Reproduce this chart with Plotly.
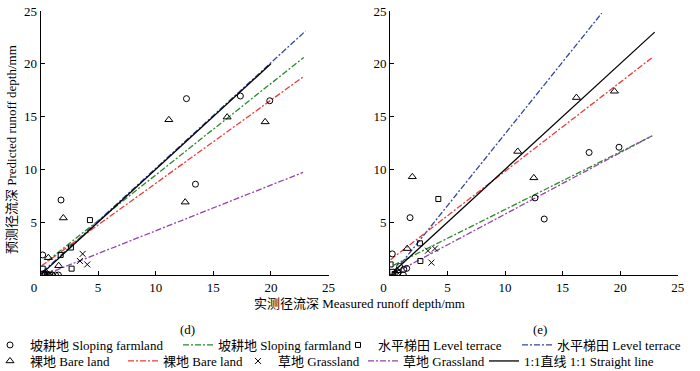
import plotly.graph_objects as go

# ---------------- data ----------------
tick_vals = [0, 5, 10, 15, 20, 25]
tick_text_x = ["0\u00a0\u00a0\u00a0\u00a0", "5", "10", "15", "20", "25"]
ytick_vals = [5, 10, 15, 20, 25]

# panel (d)
d_slope_x = [0.19, 1.78, 12.67, 17.35, 19.9, 13.45, 0.4, 0.6, 0.8, 1.0, 1.3, 1.55]
d_slope_y = [1.9, 7.1, 16.7, 16.95, 16.5, 8.6, 0.0, 0.05, 0.0, 0.0, 0.0, 0.0]
d_bare_x = [0.68, 1.98, 1.58, 11.14, 16.2, 12.56, 19.5, 0.3]
d_bare_y = [1.64, 5.4, 0.88, 14.7, 14.95, 6.9, 14.5, 0.1]
d_terr_x = [0.19, 2.7, 4.29, 2.64, 1.75, 0.1, 0.35]
d_terr_y = [0.6, 0.6, 5.2, 2.6, 1.9, 0.05, 0.1]
d_grass_x = [3.66, 3.42, 4.06, 0.5, 0.8]
d_grass_y = [2.0, 1.33, 1.0, 0.1, 0.2]

d_fit_slope_x = [0.6, 22.85]
d_fit_slope_y = [1.33, 20.6]
d_fit_terr_x = [0.2, 23.0]
d_fit_terr_y = [0.3, 23.1]
d_fit_bare_x = [0.1, 22.85]
d_fit_bare_y = [0.88, 18.8]
d_fit_grass_x = [0.3, 22.8]
d_fit_grass_y = [0.0, 9.72]
d_one_x = [0.2, 20.0]
d_one_y = [0.2, 20.0]

# panel (e)
e_slope_x = [0.2, 1.74, 12.6, 13.4, 17.3, 19.9, 1.16, 1.45, 0.84, 0.7, 1.2]
e_slope_y = [2.0, 5.43, 7.3, 5.3, 11.6, 12.1, 0.0, 0.63, 0.8, 0.2, 0.54]
e_bare_x = [1.94, 1.5, 11.1, 12.5, 16.2, 19.5, 0.6]
e_bare_y = [9.3, 2.5, 11.7, 9.2, 16.8, 17.4, 0.4]
e_terr_x = [0.05, 2.6, 4.2, 2.64, 0.2, 0.4]
e_terr_y = [1.0, 3.0, 7.2, 1.33, 0.3, 0.1]
e_grass_x = [3.3, 3.9, 3.6, 0.6]
e_grass_y = [2.3, 2.5, 1.17, 0.3]

e_fit_slope_x = [0.3, 22.8]
e_fit_slope_y = [0.91, 13.18]
e_fit_terr_x = [0.3, 18.4]
e_fit_terr_y = [0.18, 24.8]
e_fit_bare_x = [0.05, 22.8]
e_fit_bare_y = [1.45, 20.6]
e_fit_grass_x = [0.2, 22.8]
e_fit_grass_y = [0.07, 13.2]
e_one_x = [0.2, 23.0]
e_one_y = [0.2, 23.0]

names = {
    "slope_pt": "坡耕地 Sloping farmland",
    "slope_ln": "坡耕地 Sloping farmland",
    "terr_pt": "水平梯田 Level terrace",
    "terr_ln": "水平梯田 Level terrace",
    "bare_pt": "裸地 Bare land",
    "bare_ln": "裸地 Bare land",
    "grass_pt": "草地 Grassland",
    "grass_ln": "草地 Grassland",
    "one": "1:1直线 1:1 Straight line",
}

# ---------------- styles ----------------
FONT = "Liberation Serif, 'Noto Sans CJK SC', serif"
GREEN = "#2a8a2a"
BLUE = "#34479f"
RED = "#f03a3a"
PURPLE = "#9146a8"
DASH = "6px,2px,2px,2px"

fig = go.Figure()

def add_panel(ax, data, show):
    xa = "x" if ax == 1 else "x2"
    ya = "y" if ax == 1 else "y2"
    (sx, sy, bx, by, tx, ty, gx, gy,
     fsx, fsy, ftx, fty, fbx, fby, fgx, fgy, ox, oy) = data
    markers = [
        ("slope_pt", sx, sy, "circle-open", 6, "legend"),
        ("terr_pt", tx, ty, "square-open", 5, "legend3"),
        ("bare_pt", bx, by, "triangle-up-open", 7, "legend5"),
        ("grass_pt", gx, gy, "x-thin-open", 6, "legend7"),
    ]
    lines = [
        ("slope_ln", fsx, fsy, GREEN, DASH, "legend2"),
        ("terr_ln", ftx, fty, BLUE, DASH, "legend4"),
        ("bare_ln", fbx, fby, RED, DASH, "legend6"),
        ("grass_ln", fgx, fgy, PURPLE, DASH, "legend8"),
        ("one", ox, oy, "black", "solid", "legend9"),
    ]
    for key, x, y, c, dash, lg in lines:
        fig.add_trace(go.Scatter(
            x=x, y=y, mode="lines", name=names[key], xaxis=xa, yaxis=ya,
            line=dict(color=c, width=1.3, dash=dash),
            showlegend=show, legend=lg))
    for key, x, y, sym, sz, lg in markers:
        fig.add_trace(go.Scatter(
            x=x, y=y, mode="markers", name=names[key], xaxis=xa, yaxis=ya,
            marker=dict(symbol=sym, size=sz, color="black",
                        line=dict(color="black", width=1)),
            showlegend=show, legend=lg))

add_panel(1, (d_slope_x, d_slope_y, d_bare_x, d_bare_y, d_terr_x, d_terr_y,
              d_grass_x, d_grass_y, d_fit_slope_x, d_fit_slope_y,
              d_fit_terr_x, d_fit_terr_y, d_fit_bare_x, d_fit_bare_y,
              d_fit_grass_x, d_fit_grass_y, d_one_x, d_one_y), True)
add_panel(2, (e_slope_x, e_slope_y, e_bare_x, e_bare_y, e_terr_x, e_terr_y,
              e_grass_x, e_grass_y, e_fit_slope_x, e_fit_slope_y,
              e_fit_terr_x, e_fit_terr_y, e_fit_bare_x, e_fit_bare_y,
              e_fit_grass_x, e_fit_grass_y, e_one_x, e_one_y), False)

W, H = 700, 371
def px(xp):
    return xp / W
def py(yp):
    return (H - yp) / H

axis_common = dict(range=[0, 25], showline=True, linecolor="black", linewidth=1,
                   ticks="inside", ticklen=4, tickcolor="black", tickwidth=1,
                   showgrid=False, zeroline=False, mirror=False,
                   tickfont=dict(family=FONT, size=13, color="black"))

ydom = [py(275), py(11)]
layout = dict(
    width=W, height=H, margin=dict(l=0, r=0, t=0, b=0, autoexpand=False),
    paper_bgcolor="white", plot_bgcolor="white",
    font=dict(family=FONT, size=13, color="black"),
    xaxis=dict(domain=[px(40.5), px(328.5)], anchor="y", tickvals=tick_vals,
               ticktext=tick_text_x, **axis_common),
    yaxis=dict(domain=ydom, anchor="x", tickvals=ytick_vals, **axis_common),
    xaxis2=dict(domain=[px(390), px(677.7)], anchor="y2", tickvals=tick_vals,
                ticktext=tick_text_x, **axis_common),
    yaxis2=dict(domain=ydom, anchor="x2", tickvals=ytick_vals, **axis_common),
)

# legends: one per item so each sits where the reference puts it
row1_y, row2_y = py(345), py(361)
legend_pos = [
    ("legend", 30, row1_y), ("legend2", 218, row1_y), ("legend3", 378, row1_y),
    ("legend4", 557, row1_y),
    ("legend5", 30, row2_y), ("legend6", 163, row2_y), ("legend7", 278, row2_y),
    ("legend8", 403, row2_y), ("legend9", 524, row2_y),
]
for lg, text_start, yy in legend_pos:
    layout[lg] = dict(x=px(text_start - 40), y=yy, xanchor="left", yanchor="middle",
                      orientation="h", bgcolor="rgba(0,0,0,0)", borderwidth=0,
                      itemwidth=30, font=dict(family=FONT, size=13, color="black"))

fig.update_layout(**layout)

ann = dict(xref="paper", yref="paper", showarrow=False, xanchor="center",
           yanchor="middle", font=dict(family=FONT, size=13, color="black"))
fig.add_annotation(text="实测径流深 Measured runoff depth/mm", x=px(360), y=py(303), **ann)
fig.add_annotation(text="预测径流深 Predicted runoff depth/mm", x=px(11), y=py(150),
                   textangle=-90, **ann)
fig.add_annotation(text="(d)", x=px(187), y=py(329), **ann)
fig.add_annotation(text="(e)", x=px(540), y=py(329), **ann)

fig.write_html("out.html", config={"displayModeBar": False},
               post_script="document.body.style.margin='0px';")
